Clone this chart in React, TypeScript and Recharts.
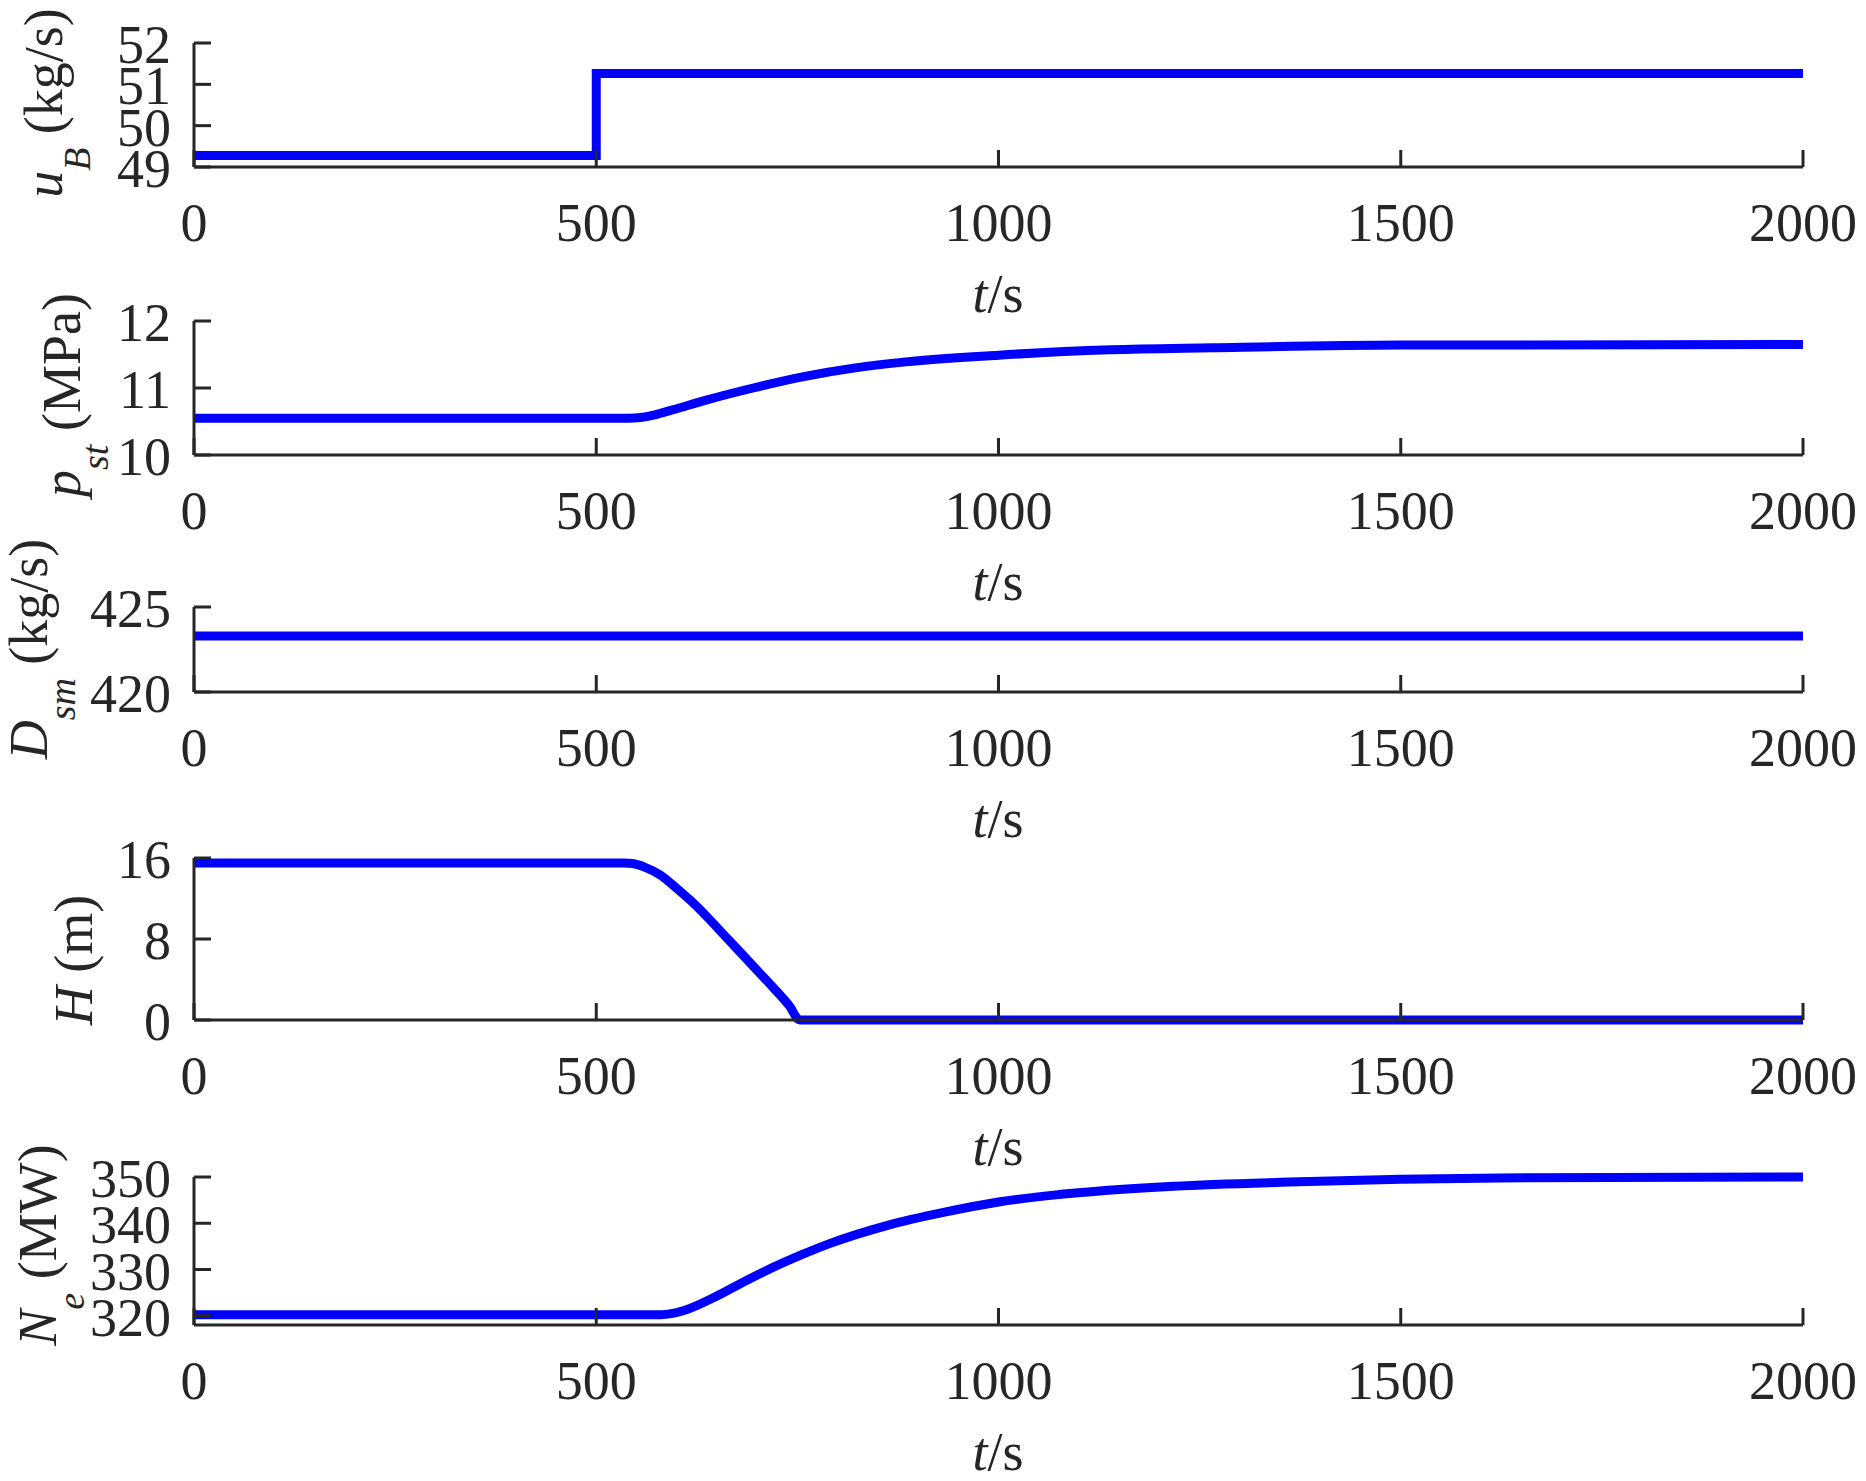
import React from 'react';
import { LineChart, Line, XAxis, YAxis } from 'recharts';

// ---- data ----
const timeTicks = [0, 500, 1000, 1500, 2000];

const uBTime = [0, 500, 500, 2000];
const uBValues = [49.28, 49.28, 51.26, 51.26];
const uBTicks = [49, 50, 51, 52];

const pstTime = [0, 540, 555, 570, 585, 600, 631, 695, 758, 822, 885, 1000, 1139, 1265, 1500, 2000];
const pstValues = [10.55, 10.55, 10.56, 10.59, 10.64, 10.69, 10.8, 11.0, 11.17, 11.3, 11.39, 11.49, 11.57, 11.6, 11.64, 11.65];
const pstTicks = [10, 11, 12];

const dsmTime = [0, 2000];
const dsmValues = [423.3, 423.3];
const dsmTicks = [420, 425];

const hTime = [0, 535, 545, 560, 580, 600, 620, 640, 660, 680, 700, 720, 740, 753, 2000];
const hValues = [15.5, 15.5, 15.45, 15.1, 14.3, 13.0, 11.6, 10.0, 8.3, 6.6, 4.9, 3.2, 1.4, 0, 0];
const hTicks = [0, 8, 16];

const neTime = [0, 580, 595, 612, 647, 683, 719, 754, 790, 861, 933, 1000, 1075, 1218, 1361, 1500, 1623, 2000];
const neValues = [320.2, 320.2, 320.5, 321.3, 324.0, 327.3, 330.4, 333.1, 335.6, 339.5, 342.4, 344.6, 346.2, 348.0, 348.9, 349.5, 349.8, 350.0];
const neTicks = [320, 330, 340, 350];

// ---- style / layout ----
const FONT = "'Liberation Serif', 'Times New Roman', serif";
const AX = '#262626';
const FS = 54;
const SUB = 38;
const PAD_TOP = 100;
const PAD_BOTTOM = 170;
const X_AXIS_H = 100;
const Y_AXIS_W = 100;

type PanelCfg = {
  time: number[];
  values: number[];
  ticks: number[];
  domain: [number, number];
  top: number;
  bottom: number;
  curve: 'linear' | 'monotone';
  labelX: number;
  labelY: number;
  main: string;
  sub?: string;
  unit: string;
};

const panels: PanelCfg[] = [
  { time: uBTime, values: uBValues, ticks: uBTicks, domain: [49, 52], top: 43, bottom: 167, curve: 'linear', labelX: 62, labelY: 103, main: 'u', sub: 'B', unit: '(kg/s)' },
  { time: pstTime, values: pstValues, ticks: pstTicks, domain: [10, 12], top: 321, bottom: 455, curve: 'monotone', labelX: 80, labelY: 395, main: 'p', sub: 'st', unit: '(MPa)' },
  { time: dsmTime, values: dsmValues, ticks: dsmTicks, domain: [420, 425], top: 607, bottom: 692, curve: 'linear', labelX: 47, labelY: 649, main: 'D', sub: 'sm', unit: '(kg/s)' },
  { time: hTime, values: hValues, ticks: hTicks, domain: [0, 16], top: 858, bottom: 1020, curve: 'monotone', labelX: 92, labelY: 960, main: 'H', unit: '(m)' },
  { time: neTime, values: neValues, ticks: neTicks, domain: [318, 350], top: 1177, bottom: 1325, curve: 'monotone', labelX: 56, labelY: 1245, main: 'N', sub: 'e', unit: '(MW)' },
];

function Panel({ p }: { p: PanelCfg }) {
  const padTop = Math.min(PAD_TOP, p.top);
  const plotH = p.bottom - p.top;
  const chartTop = p.top - padTop;
  const height = plotH + padTop + PAD_BOTTOM;
  const axisY = padTop + plotH;
  const data = p.time.map((t, i) => ({ t, v: p.values[i] }));

  const XTick = (props: any) => (
    <text x={props.x} y={axisY + 74} textAnchor="middle" fontFamily={FONT} fontSize={FS} fill={AX}>
      {props.payload.value}
    </text>
  );
  const YTick = (props: any) => (
    <text x={171} y={props.y + 20} textAnchor="end" fontFamily={FONT} fontSize={FS} fill={AX}>
      {props.payload.value}
    </text>
  );

  const xLabel = () => (
    <text x={998} y={axisY + 145} textAnchor="middle" fontFamily={FONT} fontSize={FS} fill={AX}>
      <tspan fontStyle="italic">t</tspan>
      <tspan>/s</tspan>
    </text>
  );
  const yLabel = () => (
    <text
      transform={`translate(${p.labelX},${p.labelY - chartTop}) rotate(-90)`}
      textAnchor="middle"
      fontFamily={FONT}
      fontSize={FS}
      fill={AX}
    >
      <tspan fontStyle="italic">{p.main}</tspan>
      {p.sub ? (
        <tspan fontStyle="italic" fontSize={SUB} dy={28}>{p.sub}</tspan>
      ) : null}
      <tspan dy={p.sub ? -28 : 0}>{'\u00A0' + p.unit}</tspan>
    </text>
  );

  return (
    <div style={{ position: 'absolute', left: 0, top: chartTop }}>
      <LineChart
        width={1866}
        height={height}
        data={data}
        margin={{ top: padTop, right: 63, bottom: PAD_BOTTOM - X_AXIS_H, left: 194 - Y_AXIS_W }}
      >
        <XAxis
          dataKey="t"
          type="number"
          domain={[0, 2000]}
          ticks={timeTicks}
          interval={0}
          height={X_AXIS_H}
          axisLine={{ stroke: AX, strokeWidth: 3 }}
          tickLine={{ stroke: AX, strokeWidth: 3 }}
          tickSize={-17}
          tickMargin={0}
          tick={XTick}
          label={{ content: xLabel }}
        />
        <YAxis
          type="number"
          domain={p.domain}
          ticks={p.ticks}
          interval={0}
          width={Y_AXIS_W}
          axisLine={{ stroke: AX, strokeWidth: 3 }}
          tickLine={{ stroke: AX, strokeWidth: 3 }}
          tickSize={-17}
          tickMargin={0}
          tick={YTick}
          label={{ content: yLabel }}
        />
        <Line
          dataKey="v"
          type={p.curve}
          stroke="#0000FF"
          strokeWidth={9}
          dot={false}
          activeDot={false}
          isAnimationActive={false}
        />
      </LineChart>
    </div>
  );
}

export default function App() {
  return (
    <div style={{ position: 'absolute', left: 0, top: 0, width: 1866, height: 1481, background: '#fff' }}>
      {panels.map((p, i) => (
        <Panel key={i} p={p} />
      ))}
    </div>
  );
}
